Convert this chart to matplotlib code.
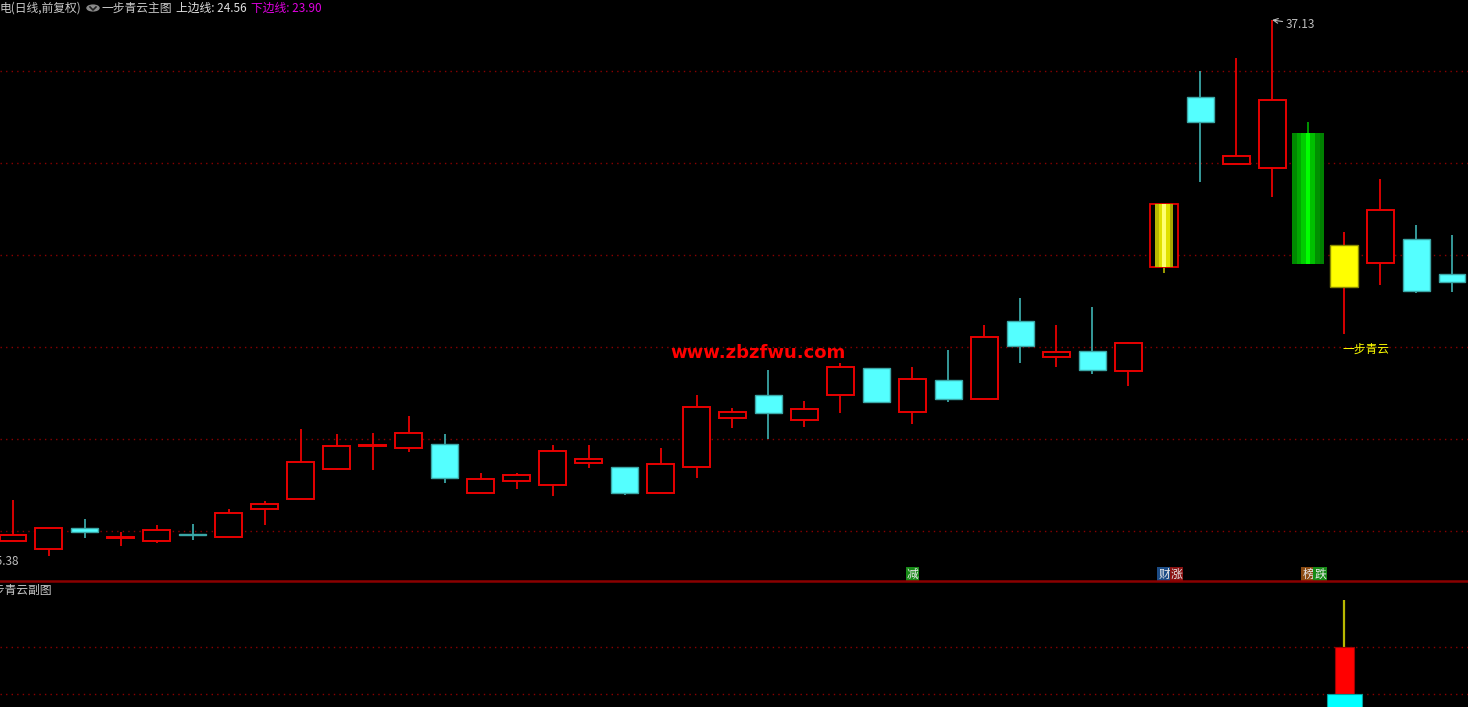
"""K-line chart with the 一步青云 main/sub indicator, black TDX style. Writes out.png."""
import matplotlib
matplotlib.use("Agg")
import matplotlib.pyplot as plt
from matplotlib.patches import Circle
from matplotlib.lines import Line2D
import matplotlib.transforms as mtransforms
import numpy as np

plt.rcParams["font.family"] = ["Noto Sans CJK SC", "DejaVu Sans"]

# daily bars, oldest first
OPEN = [25.71, 25.53, 25.99, 25.77, 25.71, 25.85, 25.80, 26.41, 26.63, 27.29,
        27.79, 27.75, 27.84, 26.76, 27.02, 26.94, 27.42, 27.33, 26.76, 27.33,
        28.41, 28.91, 28.36, 28.91, 29.50, 28.54, 29.24, 28.82, 30.53, 29.74,
        29.87, 29.44, 31.72, 35.44, 33.97, 33.89, 34.65, 32.20, 31.80, 32.33,
        31.56]
HIGH = [26.61, 25.99, 26.19, 25.91, 26.06, 26.08, 26.41, 26.59, 28.16, 28.05,
        28.08, 28.45, 28.05, 27.20, 27.20, 27.81, 27.81, 27.33, 27.75, 28.91,
        28.62, 29.46, 28.78, 29.61, 29.50, 29.52, 29.90, 30.44, 31.04, 30.44,
        30.84, 30.07, 33.10, 36.01, 36.30, 37.13, 34.89, 32.48, 33.64, 32.64,
        32.42]
LOW = [25.71, 25.38, 25.77, 25.60, 25.66, 25.73, 25.80, 26.06, 26.63, 27.27,
       27.27, 27.66, 26.98, 26.76, 26.85, 26.70, 27.31, 26.72, 26.76, 27.09,
       28.19, 27.94, 28.21, 28.52, 28.76, 28.27, 28.76, 28.82, 29.61, 29.52,
       29.37, 29.11, 31.58, 33.58, 33.97, 33.25, 31.78, 30.25, 31.32, 31.15,
       31.17]
CLOSE = [25.84, 25.99, 25.91, 25.78, 25.95, 25.84, 26.32, 26.52, 27.44, 27.79,
         27.81, 28.08, 27.09, 27.07, 27.16, 27.68, 27.51, 26.76, 27.40, 28.65,
         28.54, 28.52, 28.60, 29.52, 28.76, 29.26, 28.82, 30.18, 29.98, 29.85,
         29.46, 30.05, 33.10, 34.89, 34.15, 35.38, 31.78, 31.28, 32.97, 31.19,
         31.39]
# indicator colouring of some bars
KIND = {32: "gold", 36: "green", 37: "yellow"}

HI_LABEL = "37.13"
LO_LABEL = "25.38"
GRID_MAIN = np.linspace(25.93, 36.01, 6)

# signal tags along the bottom of the main panel: (bar, chars, backgrounds)
TAGS = [(25, "减", ["#178a17"]),
        (32, "财涨", ["#1c4c86", "#8a1212"]),
        (36, "榜跌", ["#8a4a12", "#178a17"])]
SIGNAL_BAR = 37
SIGNAL_TEXT = "一步青云"

# sub panel (一步青云副图): stacked bars on the signal bar
SUB_BAR = 37
SUB_CYAN = (0.0, 1.0)
SUB_RED = (1.0, 2.0)
SUB_LINE = (2.0, 3.0)
GRID_SUB = [1.0, 2.0]

RED = "#e80000"
CYAN = "#54ffff"
TEAL = "#3aa6a6"
GRID_C = "#8a0000"

W, H = 1468, 707
fig = plt.figure(figsize=(W / 100, H / 100), dpi=100, facecolor="black")
ax = fig.add_axes([0, 126 / H, 1, 581 / H], facecolor="black")
sub = fig.add_axes([0, 0, 1, 125 / H], facecolor="black")

n = len(OPEN)
x = np.arange(n)
o, h, l, c = map(np.array, (OPEN, HIGH, LOW, CLOSE))
up = c >= o

ax.set_xlim(-0.3614, 40.445)
ax.set_ylim(24.832, 37.568)
ax.set_axis_off()
for g in GRID_MAIN:
    ax.axhline(g, color=GRID_C, lw=1, ls=(0, (1, 3)), zorder=0)

# wicks
for i in range(n):
    kind = KIND.get(i)
    if kind == "gold":
        wc = "#a8a800"
    elif kind == "green":
        wc = "#00a000"
    elif kind == "yellow":
        wc = RED
    else:
        wc = RED if up[i] else TEAL
    ax.vlines(i, l[i], h[i], color=wc, lw=1.3, zorder=1)

bw = 0.75
bot = np.minimum(o, c)
hgt = np.maximum(np.abs(c - o), 0.02)
std = np.array([i not in KIND for i in range(n)])
m = std & up
ax.bar(x[m], hgt[m], bw, bot[m], facecolor="black", edgecolor=RED, lw=1.4, zorder=2)
m = std & ~up
ax.bar(x[m], hgt[m], bw, bot[m], facecolor=CYAN, edgecolor=TEAL, lw=1.0, zorder=2)

for i, kind in KIND.items():
    if kind == "gold":
        ax.bar(i, hgt[i], 0.78, bot[i], facecolor="black", edgecolor=RED, lw=1.3, zorder=2)
        shades = ["#b8b800", "#e0e000", "#ffff70", "#e0e000", "#a8a800"]
        sw = 0.5 / len(shades)
        for k, col in enumerate(shades):
            ax.bar(i - 0.25 + sw * (k + 0.5), hgt[i], sw, bot[i], color=col, lw=0, zorder=3)
    elif kind == "green":
        shades = ["#008a00", "#00a800", "#00cc00", "#00ff00", "#00c000", "#009000", "#008000"]
        sw = 0.89 / len(shades)
        for k, col in enumerate(shades):
            ax.bar(i - 0.445 + sw * (k + 0.5), hgt[i], sw, bot[i], color=col, lw=0, zorder=3)
    elif kind == "yellow":
        ax.bar(i, hgt[i], 0.8, bot[i], facecolor="#ffff00", edgecolor="#8a8a00", lw=1.0, zorder=2)

# high / low marks
ih = int(np.argmax(h))
il = int(np.argmin(l))
ax.annotate(HI_LABEL, xy=(ih, h[ih]), xytext=(9.5, -3), textcoords="offset points",
            ha="left", va="center", fontsize=8.5, color="#bdbdbd",
            arrowprops=dict(arrowstyle="->", color="#bdbdbd", lw=0.8, shrinkA=0, shrinkB=0))
ax.annotate(LO_LABEL, xy=(il, l[il]), xytext=(-21.5, -3.6), textcoords="offset points",
            ha="right", va="center", fontsize=8.5, color="#bdbdbd")

ax.text(SIGNAL_BAR - 0.05, 29.92, SIGNAL_TEXT, ha="left", va="center", fontsize=8.5, color="#ffff00")
ax.text(20.71, 29.83, "www.zbzfwu.com", ha="center", va="center", fontsize=13,
        fontweight="bold", family="DejaVu Sans", color="#ff0000")

trans = mtransforms.blended_transform_factory(ax.transData, ax.transAxes)
for bar, chars, bgs in TAGS:
    for k, (ch, bg) in enumerate(zip(chars, bgs)):
        ax.annotate(ch, xy=(bar, 0.0115), xycoords=trans, xytext=(k * 8.8, 0),
                    textcoords="offset points", ha="center", va="center",
                    fontsize=8.5, color="#e8e8e8",
                    bbox=dict(boxstyle="square,pad=0.08", fc=bg, ec="none"))

# separator between panels
fig.add_artist(Line2D([0, 1], [126 / H, 126 / H], color="#8a0000", lw=1.8))

# sub panel
sub.set_xlim(ax.get_xlim())
sub.set_ylim(0.723, 3.383)
sub.set_axis_off()
for g in GRID_SUB:
    sub.axhline(g, color=GRID_C, lw=1, ls=(0, (1, 3)), zorder=0)
sub.vlines(SUB_BAR, SUB_LINE[0], SUB_LINE[1], color="#b8b800", lw=1.6, zorder=1)
sub.bar(SUB_BAR, SUB_RED[1] - SUB_RED[0], 0.53, SUB_RED[0], facecolor="#ff0000",
        edgecolor="#a00000", lw=0.8, zorder=2)
sub.bar(SUB_BAR, SUB_CYAN[1] - SUB_CYAN[0], 0.97, SUB_CYAN[0], facecolor="#00ffff",
        edgecolor="#00a0a0", lw=0.8, zorder=3)
fig.text(-19 / W, 1 - 590 / H, "一步青云副图", ha="left", va="center", fontsize=8.5, color="#c8c8c8")

# header line
def ftxt(px, s, col):
    fig.text(px / W, 1 - 8 / H, s, ha="left", va="center", fontsize=8.5, color=col)

ftxt(0, "电(日线,前复权)", "#c8c8c8")
fig.add_artist(Circle((93 / W, 1 - 8 / H), 6 / W, transform=fig.transFigure, color="#8c8c8c"))
fig.add_artist(Line2D([90 / W, 93 / W, 96 / W], [1 - 7 / H, 1 - 10 / H, 1 - 7 / H],
                      color="#202020", lw=1.2))
ftxt(101, "一步青云主图", "#c8c8c8")
ftxt(176, "上边线: 24.56", "#e0e0e0")
ftxt(251, "下边线: 23.90", "#e000e0")

fig.savefig("out.png", dpi=100, facecolor="black")
